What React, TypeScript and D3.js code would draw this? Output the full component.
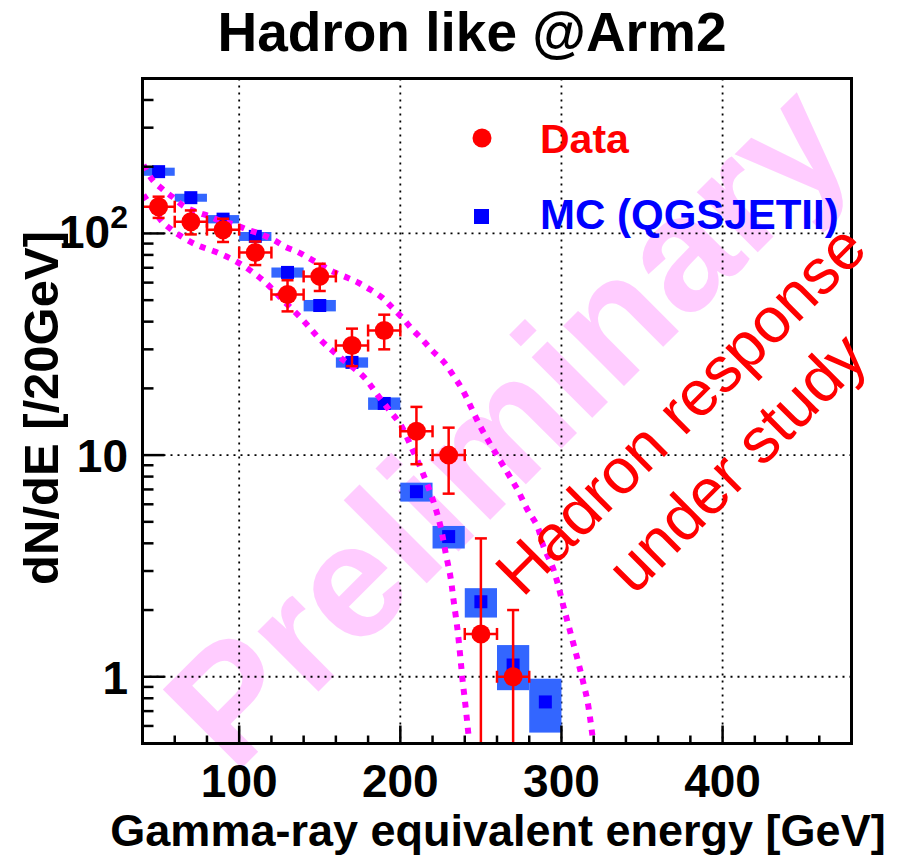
import React from "react";
import * as d3 from "d3";

// Measured spectrum (bin centres in GeV, 20 GeV bins)
const dataEnergy = [50, 70, 90, 110, 130, 150, 170, 190, 210, 230, 250, 270];
const dataValue = [132, 113, 104, 82, 53, 64, 31.2, 36.5, 12.8, 10.0, 1.56, 1.0];
const dataError = [14.5, 14, 12.5, 10, 8.5, 9, 6, 6.5, 3.7, 3.3, 2.65, 1.0];

// MC (QGSJET II) prediction
const mcEnergy = [50, 70, 90, 110, 130, 150, 170, 190, 210, 230, 250, 270, 290];
const mcValue = [190, 145, 116, 97, 66.7, 47.3, 26.2, 17.1, 6.84, 4.29, 2.18, 1.13, 0.77];
const mcError = [8, 6, 5, 4.5, 3.5, 2.8, 1.4, 1.1, 0.67, 0.5, 0.33, 0.26, 0.21];

const binHalfWidth = 10;

// Systematic band edges (dotted curves)
const bandUpperEnergy = [40.6, 46.2, 53.0, 58.6, 65.4, 73.5, 80.9, 88.4, 97.7, 105.2, 113.2, 121.3, 128.7, 136.2, 143.0, 150.5, 158.5, 167.2, 174.0, 181.5, 188.9, 195.1, 201.3, 207.6, 213.8, 220.0, 226.8, 233.0, 238.6, 249.8, 257.8, 266.5, 272.7, 278.9, 285.1, 288.9, 294.4, 297.5, 301.3, 305.6, 310.0, 313.1, 316.2, 319.3];
const bandUpperValue = [203.7, 174.4, 157.1, 146.1, 133.1, 125.0, 119.9, 113.9, 109.3, 103.8, 99.5, 93.5, 87.0, 82.6, 77.6, 72.2, 67.1, 63.1, 59.9, 55.7, 51.2, 46.2, 41.6, 36.8, 33.1, 29.5, 26.4, 22.8, 19.7, 13.4, 10.6, 8.33, 6.99, 5.67, 4.76, 3.86, 3.14, 2.66, 2.07, 1.58, 1.196, 0.971, 0.773, 0.537];

const bandLowerEnergy = [40.6, 48.1, 52.4, 57.4, 63.6, 73.5, 85.3, 99.6, 114.5, 126.9, 139.3, 150.5, 162.9, 177.2, 185.8, 193.9, 200.2, 207.6, 214.4, 220.6, 225.0, 228.1, 231.2, 233.0, 235.5, 237.4, 238.6, 240.5, 242.4];
const bandLowerValue = [149.2, 123.8, 112.7, 104.8, 97.5, 88.8, 82.6, 73.7, 61.7, 50.2, 40.8, 33.1, 27.5, 22.6, 18.7, 15.7, 13.7, 10.57, 8.15, 6.16, 4.75, 3.63, 2.80, 2.23, 1.63, 1.195, 0.971, 0.734, 0.537];

const xMajorTicks = [100, 200, 300, 400];
const xMinorTicks = d3.range(60, 480, 20);
const yMajorTicks = [1, 10, 100];

const FONT = "'Liberation Sans', Arial, Helvetica, sans-serif";
const RED = "#ff0000";
const BLUE = "#0000ff";
const BLUE_BOX = "#3366ff";
const MAGENTA = "#ff00ff";
const PINK = "#ffccff";

export default function App() {
  const W = 901;
  const H = 859;
  const x = d3.scaleLinear().domain([40, 480]).range([142.5, 851.5]);
  const y = d3.scaleLog().domain([0.5, 500]).range([743.5, 78.5]);
  const [x0, x1] = x.range();
  const [y0, y1] = y.range();

  // log-axis minor ticks: 2..9 x decade inside the domain
  const yMinorTicks: number[] = [];
  [0.1, 1, 10, 100].forEach((dec) => {
    for (let k = 2; k <= 9; k++) {
      const v = k * dec;
      if (v >= 0.5 && v <= 500 && !yMajorTicks.includes(v)) yMinorTicks.push(v);
    }
  });

  const line = d3
    .line<[number, number]>()
    .x((d) => x(d[0]))
    .y((d) => y(d[1]))
    .curve(d3.curveCatmullRom);

  const upperPts = bandUpperEnergy.map((e, i) => [e, bandUpperValue[i]] as [number, number]);
  const lowerPts = bandLowerEnergy.map((e, i) => [e, bandLowerValue[i]] as [number, number]);

  const clampY = (v: number) => (v <= 0.5 ? y0 : Math.min(y0, y(v)));
  const cap = 6;

  return (
    <svg
      width={W}
      height={H}
      style={{ position: "absolute", left: 0, top: 0, background: "#fff" }}
      fontFamily={FONT}
    >
      <rect x={0} y={0} width={W} height={H} fill="#fff" />

      {/* watermark */}
      <text
        transform={`translate(546,464) rotate(-45)`}
        textAnchor="middle"
        fontSize={162}
        fontWeight="bold"
        fill={PINK}
      >
        Preliminary
      </text>

      <defs>
        <clipPath id="plotArea">
          <rect x={x0} y={y1} width={x1 - x0} height={y0 - y1} />
        </clipPath>
      </defs>

      {/* grid */}
      <g stroke="#000" strokeWidth={1.8} strokeDasharray="2 5">
        {xMajorTicks.map((t) => (
          <line key={"gx" + t} x1={x(t)} x2={x(t)} y1={y1} y2={y0} />
        ))}
        {yMajorTicks.map((t) => (
          <line key={"gy" + t} x1={x0} x2={x1} y1={y(t)} y2={y(t)} />
        ))}
      </g>

      {/* MC boxes */}
      <g clipPath="url(#plotArea)">
        {mcEnergy.map((e, i) => {
          const top = y(mcValue[i] + mcError[i]);
          const bot = clampY(mcValue[i] - mcError[i]);
          const h = Math.max(bot - top, 8);
          const cy = (top + bot) / 2;
          return (
            <rect
              key={"mcb" + i}
              x={x(e - binHalfWidth)}
              y={cy - h / 2}
              width={x(e + binHalfWidth) - x(e - binHalfWidth)}
              height={h}
              fill={BLUE_BOX}
            />
          );
        })}
        {mcEnergy.map((e, i) => (
          <rect
            key={"mcm" + i}
            x={x(e) - 6.5}
            y={y(mcValue[i]) - 6.5}
            width={13}
            height={13}
            fill={BLUE}
          />
        ))}
      </g>

      {/* dotted band edges */}
      <g clipPath="url(#plotArea)" fill="none" stroke={MAGENTA} strokeWidth={6} strokeDasharray="6 7">
        <path d={line(upperPts) || ""} />
        <path d={line(lowerPts) || ""} />
      </g>

      {/* data with error bars */}
      <g stroke={RED} strokeWidth={2.5} fill="none">
        {dataEnergy.map((e, i) => {
          const cx = x(e);
          const cy = y(dataValue[i]);
          const yt = y(dataValue[i] + dataError[i]);
          const yb = clampY(dataValue[i] - dataError[i]);
          const xl = x(e - binHalfWidth);
          const xr = x(e + binHalfWidth);
          return (
            <g key={"d" + i}>
              <line x1={cx} x2={cx} y1={yt} y2={yb} />
              <line x1={cx - cap} x2={cx + cap} y1={yt} y2={yt} />
              <line x1={cx - cap} x2={cx + cap} y1={yb} y2={yb} />
              <line x1={xl} x2={xr} y1={cy} y2={cy} />
              <line x1={xl} x2={xl} y1={cy - cap} y2={cy + cap} />
              <line x1={xr} x2={xr} y1={cy - cap} y2={cy + cap} />
            </g>
          );
        })}
      </g>
      <g fill={RED}>
        {dataEnergy.map((e, i) => (
          <circle key={"dm" + i} cx={x(e)} cy={y(dataValue[i])} r={9.5} />
        ))}
      </g>

      {/* frame and ticks */}
      <rect x={x0} y={y1} width={x1 - x0} height={y0 - y1} fill="none" stroke="#000" strokeWidth={3} />
      <g stroke="#000" strokeWidth={2.5}>
        {xMinorTicks.map((t) => (
          <line key={"xt" + t} x1={x(t)} x2={x(t)} y1={y0} y2={y0 - (xMajorTicks.includes(t) ? 18 : 8)} />
        ))}
        {yMajorTicks.map((t) => (
          <line key={"yM" + t} x1={x0} x2={x0 + 22} y1={y(t)} y2={y(t)} />
        ))}
        {yMinorTicks.map((t) => (
          <line key={"ym" + t} x1={x0} x2={x0 + 11} y1={y(t)} y2={y(t)} />
        ))}
      </g>

      {/* tick labels */}
      <g fontWeight="bold" fontSize={46} fill="#000">
        {xMajorTicks.map((t) => (
          <text key={"xl" + t} x={x(t)} y={797} textAnchor="middle">
            {t}
          </text>
        ))}
        <text x={128} y={y(10) + 17} textAnchor="end">10</text>
        <text x={128} y={y(1) + 17} textAnchor="end">1</text>
        <text x={128} y={y(100) + 15} textAnchor="end">
          10
          <tspan fontSize={32} dy={-20}>2</tspan>
        </text>
      </g>

      {/* axis titles */}
      <text x={498} y={846} textAnchor="middle" fontWeight="bold" fontSize={45}>
        Gamma-ray equivalent energy [GeV]
      </text>
      <text
        transform={`translate(58,408) rotate(-90)`}
        textAnchor="middle"
        fontWeight="bold"
        fontSize={49}
      >
        dN/dE [/20GeV]
      </text>

      {/* title */}
      <text x={472} y={51} textAnchor="middle" fontWeight="bold" fontSize={55}>
        Hadron like @Arm2
      </text>

      {/* legend */}
      <circle cx={482} cy={138} r={9.5} fill={RED} />
      <text x={540} y={153} fontWeight="bold" fontSize={41} fill={RED}>
        Data
      </text>
      <rect x={474} y={209} width={15} height={15} fill={BLUE} />
      <text x={540} y={229} fontWeight="bold" fontSize={42} fill={BLUE}>
        MC (QGSJETII)
      </text>

      {/* annotation */}
      <g fill={RED} fontSize={64} textAnchor="middle">
        <text transform={`translate(696,425) rotate(-45)`}>Hadron response</text>
        <text transform={`translate(752,478) rotate(-45)`}>under study</text>
      </g>
    </svg>
  );
}
